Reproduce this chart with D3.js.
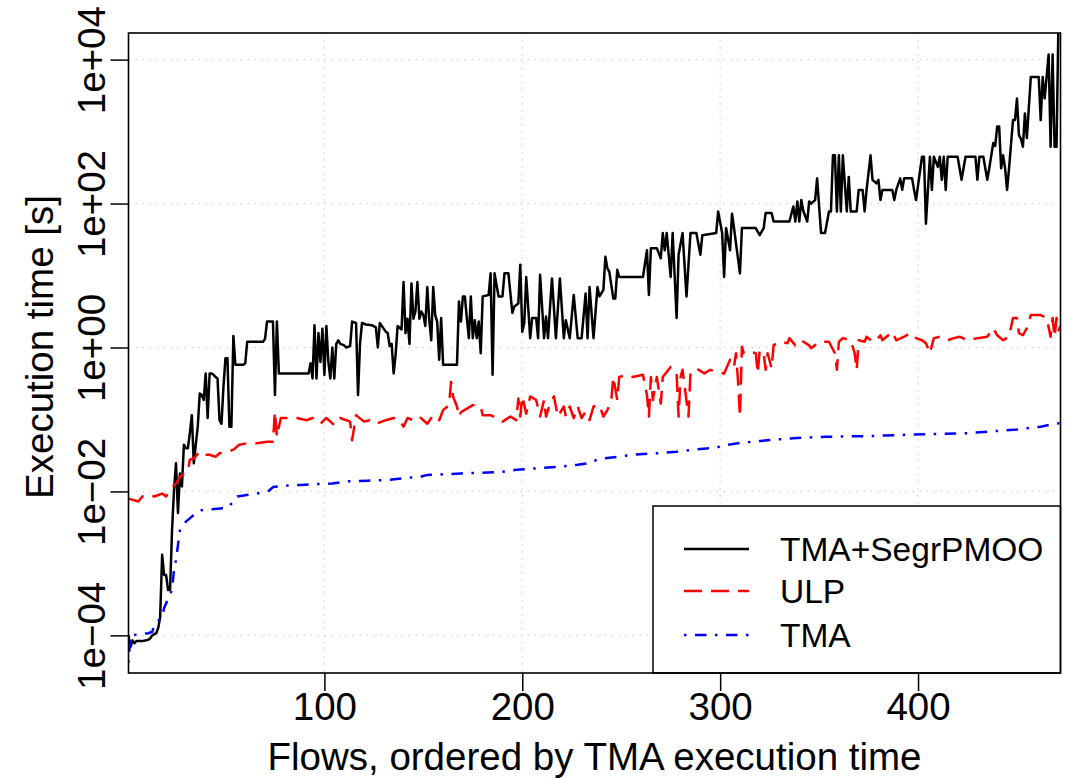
<!DOCTYPE html>
<html><head><meta charset="utf-8">
<script src="https://cdn.jsdelivr.net/npm/d3@7"></script>
<style>
body{margin:0;background:#fff}
svg{display:block}
text{font-family:"Liberation Sans",Arial,Helvetica,sans-serif;fill:#000}
</style>
</head><body>
<svg id="chart" width="1073" height="778"></svg>
<script>
// ---- data (flow index, log10 of execution time in seconds) ----
const seriesNames = ["TMA+SegrPMOO", "ULP", "TMA"];
const xTicks = [100, 200, 300, 400];
const yTicks = [1e-4, 1e-2, 1, 1e2, 1e4];
const yTickLabels = ["1e\u221204", "1e\u221202", "1e+00", "1e+02", "1e+04"];
const xTitle = "Flows, ordered by TMA execution time";
const yTitle = "Execution time [s]";

const tmaSegrPmooLog10 = [
[1,-4.00],[2,-4.16],[3,-4.07],[4,-4.11],[5,-4.08],[8,-4.08],[11,-4.06],[12,-4.04],[13,-4.00],[15,-3.97],
[16,-3.90],[17,-3.75],[18,-2.88],[19,-3.16],[20,-3.16],[21,-3.37],[22,-3.37],[23,-2.54],[24,-1.98],[25,-1.61],
[26,-2.30],[27,-1.75],[28,-1.93],[29,-1.35],[30,-1.40],[31,-1.40],[32,-1.19],[33,-0.94],[34,-1.61],[35,-1.35],
[36,-1.10],[37,-0.64],[38,-0.66],[39,-0.73],[40,-0.36],[41,-0.98],[42,-0.36],[43,-0.36],[44,-0.38],[45,-0.41],
[46,-0.43],[47,-1.01],[48,-1.06],[49,-0.54],[50,-0.15],[51,-0.15],[52,-1.10],[53,-1.10],[54,0.16],[55,-0.24],
[59,-0.24],[60,-0.22],[61,0.08],[69,0.08],[70,0.12],[71,0.36],[74,0.36],[75,-0.66],[76,0.36],[77,-0.36],
[92,-0.36],[93,-0.22],[94,-0.43],[95,0.31],[96,-0.43],[97,0.20],[98,-0.20],[99,0.26],[100,-0.38],[101,0.30],
[102,-0.20],[103,-0.43],[104,0.00],[105,-0.43],[106,0.05],[107,0.10],[108,0.05],[110,0.03],[111,0.00],[113,0.02],
[114,0.36],[116,0.34],[117,-0.66],[118,0.05],[119,0.34],[121,0.32],[124,0.31],[126,0.28],[127,0.00],[128,0.34],
[129,0.30],[131,0.22],[132,0.20],[133,0.02],[134,0.05],[135,-0.36],[136,-0.10],[137,0.30],[139,0.25],[140,0.91],
[141,0.20],[142,0.40],[143,0.05],[144,0.89],[145,0.40],[146,0.50],[147,0.91],[148,0.40],[149,0.50],[150,0.45],
[151,0.30],[152,0.84],[153,0.38],[154,0.10],[155,0.84],[156,0.45],[157,0.36],[158,-0.17],[159,0.41],[160,-0.24],
[167,-0.24],[168,0.64],[169,0.36],[170,0.71],[171,0.71],[172,0.40],[173,0.13],[174,0.71],[175,0.13],[176,0.38],
[177,0.13],[178,0.36],[179,-0.08],[180,0.71],[183,0.73],[184,1.03],[185,-0.38],[186,1.03],[188,0.71],[190,0.71],
[191,1.03],[193,1.03],[195,0.48],[196,0.57],[198,0.61],[199,1.15],[200,0.22],[201,0.34],[202,0.98],[204,0.13],
[205,0.41],[207,0.41],[208,0.13],[209,1.01],[211,0.13],[212,0.43],[213,0.13],[215,0.96],[217,0.13],[219,0.96],
[221,0.13],[222,0.38],[224,0.13],[226,0.73],[228,0.13],[230,0.13],[232,0.75],[233,0.13],[234,0.84],[236,0.13],
[238,0.84],[239,0.71],[241,0.80],[242,1.26],[243,1.10],[244,1.05],[246,0.68],[247,0.68],[248,1.08],[249,0.98],
[261,0.98],[263,1.35],[264,0.73],[265,1.38],[268,1.38],[270,1.24],[271,1.59],[272,1.35],[273,1.59],[275,0.98],
[276,1.59],[278,0.41],[279,1.29],[281,1.59],[283,0.71],[285,1.59],[288,1.59],[290,1.29],[291,1.56],[298,1.59],
[299,1.89],[301,1.59],[302,0.98],[303,1.66],[305,1.35],[306,1.86],[307,1.66],[310,1.03],[311,1.66],[318,1.66],
[320,1.56],[322,1.66],[323,1.87],[326,1.87],[327,1.75],[335,1.75],[337,1.96],[338,1.75],[339,2.03],[340,1.75],
[341,2.05],[342,1.90],[344,1.75],[345,2.03],[346,2.00],[348,2.05],[349,2.35],[351,1.59],[353,1.59],[355,1.89],
[356,1.89],[357,2.67],[358,2.67],[359,1.89],[360,2.67],[361,1.89],[362,2.67],[364,1.89],[365,2.37],[366,1.89],
[369,1.89],[370,2.19],[372,2.19],[373,1.89],[374,2.19],[376,2.67],[377,2.33],[379,2.28],[380,2.33],[381,2.05],
[382,2.19],[387,2.19],[388,2.05],[389,2.19],[391,2.35],[392,2.19],[393,2.35],[397,2.35],[398,2.19],[399,2.05],
[402,2.65],[403,2.65],[404,1.72],[406,2.65],[407,2.19],[408,2.65],[410,2.51],[411,2.65],[412,2.33],[413,2.65],
[414,2.19],[415,2.65],[420,2.65],[422,2.33],[424,2.65],[429,2.65],[430,2.33],[431,2.65],[433,2.65],[435,2.33],
[436,2.49],[438,2.84],[439,2.80],[440,3.07],[441,3.07],[442,2.49],[443,2.67],[444,2.49],[445,2.19],[446,2.49],
[448,3.16],[449,3.16],[450,3.46],[451,2.95],[452,2.90],[453,2.79],[454,3.25],[455,2.91],[457,3.76],[461,3.76],
[462,3.16],[463,3.76],[464,3.46],[466,4.07],[467,2.79],[468,4.07],[469,2.79],[470,2.79],[471,4.60],[472,4.60]
];

const ulpLog10 = [
[1,-2.10],[6,-2.14],[8,-2.07],[12,-2.05],[14,-2.07],[18,-2.03],[20,-2.07],[22,-1.98],[25,-1.89],[27,-1.80],
[29,-1.75],[31,-1.73],[32,-1.56],[34,-1.54],[37,-1.45],[39,-1.49],[42,-1.49],[45,-1.52],[47,-1.47],[51,-1.45],
[54,-1.42],[57,-1.35],[61,-1.33],[66,-1.33],[71,-1.31],[74,-1.31],[75,-0.89],[76,-1.24],[77,-1.10],[78,-0.98],
[81,-0.98],[86,-0.98],[91,-1.01],[94,-0.98],[98,-1.06],[101,-0.98],[105,-1.08],[108,-0.98],[113,-1.03],[114,-1.29],
[116,-0.94],[120,-1.03],[123,-1.01],[126,-1.06],[131,-1.01],[135,-0.98],[138,-1.01],[140,-1.10],[142,-0.98],[145,-1.01],
[148,-0.96],[152,-1.06],[155,-0.94],[158,-1.01],[160,-0.87],[163,-0.80],[164,-0.48],[165,-0.68],[167,-0.82],[168,-0.96],
[169,-0.90],[172,-0.85],[175,-0.80],[179,-0.82],[180,-0.94],[184,-0.94],[187,-0.98],[190,-1.03],[194,-0.96],[197,-1.01],
[198,-0.71],[199,-0.96],[200,-0.68],[202,-0.92],[204,-0.68],[207,-0.73],[209,-0.96],[211,-0.73],[212,-0.96],[214,-0.78],
[216,-0.68],[218,-0.96],[221,-0.82],[222,-0.96],[224,-0.82],[226,-0.98],[228,-0.82],[230,-0.98],[232,-0.89],[234,-1.01],
[236,-0.82],[239,-0.80],[241,-0.96],[243,-0.87],[245,-0.73],[246,-0.41],[248,-0.73],[249,-0.41],[253,-0.38],[256,-0.41],
[261,-0.38],[263,-0.66],[264,-0.96],[265,-0.41],[266,-0.73],[268,-0.41],[270,-0.78],[271,-0.41],[273,-0.34],[275,-0.27],
[278,-0.36],[279,-0.96],[280,-0.41],[281,-0.31],[284,-0.96],[285,-0.36],[288,-0.29],[292,-0.36],[295,-0.31],[298,-0.34],
[302,-0.36],[305,-0.17],[307,-0.27],[308,-0.08],[309,-0.45],[310,-0.96],[311,0.01],[312,-0.08],[313,-0.08],[315,-0.06],
[318,-0.08],[319,-0.36],[320,-0.04],[322,-0.08],[323,-0.31],[324,-0.08],[326,-0.29],[327,0.03],[330,0.08],[334,0.06],
[335,0.13],[338,0.03],[340,0.08],[341,0.10],[345,0.03],[346,-0.01],[350,0.08],[355,0.08],[358,-0.08],[359,-0.31],
[360,0.08],[362,0.13],[366,0.10],[368,-0.08],[369,-0.31],[370,0.10],[373,0.08],[374,0.15],[377,0.08],[379,0.10],
[381,0.17],[382,0.10],[385,0.17],[387,0.22],[389,0.10],[393,0.15],[396,0.20],[399,0.13],[402,0.10],[404,0.06],
[406,-0.08],[408,0.13],[411,0.15],[415,0.10],[418,0.13],[421,0.15],[425,0.10],[430,0.13],[435,0.15],[438,0.27],
[440,0.17],[443,0.10],[446,0.15],[448,0.41],[450,0.41],[451,0.20],[453,0.17],[455,0.27],[457,0.45],[462,0.45],
[465,0.41],[467,0.15],[468,0.41],[469,0.15],[470,0.41],[471,0.24],[472,0.30]
];

const tmaLog10 = [
[1,-4.38],[2,-4.00],[11,-3.97],[13,-3.95],[14,-3.86],[18,-3.74],[19,-3.62],[23,-3.37],[24,-3.09],[25,-2.95],
[27,-2.54],[28,-2.49],[30,-2.42],[36,-2.28],[38,-2.26],[41,-2.25],[51,-2.23],[53,-2.17],[56,-2.07],[66,-2.03],
[72,-1.99],[74,-1.94],[84,-1.91],[88,-1.91],[94,-1.90],[104,-1.89],[111,-1.86],[122,-1.85],[132,-1.84],[142,-1.81],
[148,-1.80],[152,-1.77],[162,-1.76],[169,-1.75],[179,-1.74],[189,-1.73],[197,-1.70],[207,-1.68],[217,-1.66],[228,-1.63],
[233,-1.61],[234,-1.59],[241,-1.54],[248,-1.52],[256,-1.49],[268,-1.47],[278,-1.45],[286,-1.42],[298,-1.39],[304,-1.35],
[312,-1.32],[320,-1.30],[328,-1.28],[337,-1.26],[354,-1.24],[376,-1.23],[397,-1.21],[411,-1.20],[425,-1.19],[435,-1.17],
[450,-1.14],[462,-1.10],[469,-1.06],[472,-1.05]
];

// ---- layout ----
const svg = d3.select("#chart");
const L = 128.5, R = 1060.5, T = 33, B = 673;
const AXIS_FONT = 38.5, LEGEND_FONT = 33.5;
const x = d3.scaleLinear().domain([1, 472]).range([L, R]);
const y = d3.scaleLog().domain([Math.pow(10, -4.523), Math.pow(10, 4.37)]).range([B, T]);

const toSeconds = arr => arr.map(([f, lg]) => [f, Math.pow(10, lg)]);
const series = [
  {name: seriesNames[0], data: toSeconds(tmaSegrPmooLog10), color: "#000000", dash: null},
  {name: seriesNames[1], data: toSeconds(ulpLog10), color: "#ff0000", dash: "18 9"},
  {name: seriesNames[2], data: toSeconds(tmaLog10), color: "#0000ff", dash: "2.5 8.5 11.5 8.5"}
];

svg.append("defs").append("clipPath").attr("id", "clip")
  .append("rect").attr("x", L).attr("y", T).attr("width", R - L).attr("height", B - T);

// grid
const grid = svg.append("g").attr("stroke", "#cfcfcf").attr("stroke-width", 1.2).attr("stroke-dasharray", "1.5 5.5");
grid.selectAll("line.v").data(xTicks).join("line").attr("class", "v")
  .attr("x1", d => x(d)).attr("x2", d => x(d)).attr("y1", T).attr("y2", B);
grid.selectAll("line.h").data(yTicks).join("line").attr("class", "h")
  .attr("x1", L).attr("x2", R).attr("y1", d => y(d)).attr("y2", d => y(d));

// lines
const line = d3.line().x(d => x(d[0])).y(d => y(d[1]));
const lg = svg.append("g").attr("clip-path", "url(#clip)");
series.forEach(s => {
  lg.append("path").datum(s.data)
    .attr("d", line)
    .attr("fill", "none")
    .attr("stroke", s.color)
    .attr("stroke-width", 2.5)
    .attr("stroke-linejoin", "round")
    .attr("stroke-dasharray", s.dash);
});

// legend
const leg = svg.append("g");
leg.append("rect").attr("x", 653).attr("y", 506).attr("width", R - 653).attr("height", B - 506)
  .attr("fill", "#fff").attr("stroke", "#000").attr("stroke-width", 1.5);
const rowY = [549, 591, 635];
series.forEach((s, i) => {
  leg.append("line").attr("x1", 684).attr("x2", 749).attr("y1", rowY[i]).attr("y2", rowY[i])
    .attr("stroke", s.color).attr("stroke-width", 2.5).attr("stroke-dasharray", s.dash);
  leg.append("text").attr("x", 780).attr("y", rowY[i] + 11.5).attr("font-size", LEGEND_FONT).text(s.name);
});

// box
svg.append("rect").attr("x", L).attr("y", T).attr("width", R - L).attr("height", B - T)
  .attr("fill", "none").attr("stroke", "#000").attr("stroke-width", 1.6);

// x axis
const xa = svg.append("g").attr("transform", `translate(0,${B})`)
  .call(d3.axisBottom(x).tickValues(xTicks).tickSize(18).tickFormat(d3.format("d")));
xa.select(".domain").remove();
xa.selectAll(".tick line").attr("stroke", "#000").attr("stroke-width", 1.5);
xa.selectAll(".tick text").attr("y", 46.5).attr("dy", null).attr("font-size", AXIS_FONT)
  .attr("font-family", "'Liberation Sans',Arial,sans-serif").attr("fill", "#000");

// y axis
const ya = svg.append("g").attr("transform", `translate(${L},0)`)
  .call(d3.axisLeft(y).tickValues(yTicks).tickSize(18).tickFormat((d, i) => yTickLabels[i]));
ya.select(".domain").remove();
ya.selectAll(".tick line").attr("stroke", "#000").attr("stroke-width", 1.5);
ya.selectAll(".tick text").attr("x", null).attr("dy", null)
  .attr("transform", "translate(-24,0) rotate(-90)")
  .attr("text-anchor", "middle").attr("font-size", AXIS_FONT)
  .attr("font-family", "'Liberation Sans',Arial,sans-serif").attr("fill", "#000");

// titles
svg.append("text").attr("x", (L + R) / 2).attr("y", 770).attr("text-anchor", "middle")
  .attr("font-size", AXIS_FONT).text(xTitle);
svg.append("text").attr("transform", "translate(53,347) rotate(-90)").attr("text-anchor", "middle")
  .attr("font-size", AXIS_FONT).text(yTitle);
</script>
</body></html>
